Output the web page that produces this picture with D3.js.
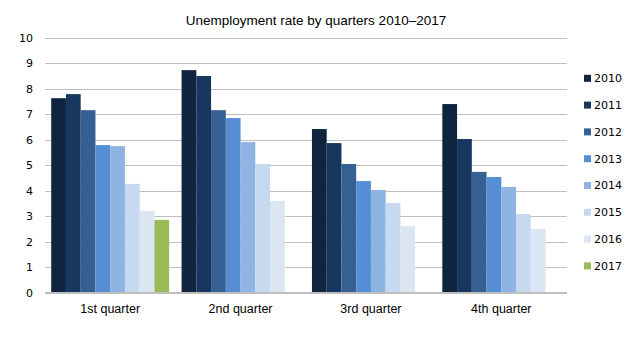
<!DOCTYPE html>
<html>
<head>
<meta charset="utf-8">
<script src="https://cdn.jsdelivr.net/npm/d3@7"></script>
<style>
  html, body { margin: 0; padding: 0; background: #fff; }
  svg { display: block; }
</style>
</head>
<body>
<svg id="chart" width="643" height="340"></svg>
<script>
// Quarterly unemployment rate, one bar per year within each quarter
const quarters = ["1st quarter", "2nd quarter", "3rd quarter", "4th quarter"];
const years = ["2010", "2011", "2012", "2013", "2014", "2015", "2016", "2017"];
const rate2010 = [7.62, 8.72, 6.41, 7.39];
const rate2011 = [7.78, 8.49, 5.86, 6.02];
const rate2012 = [7.15, 7.15, 5.04, 4.73];
const rate2013 = [5.78, 6.84, 4.37, 4.53];
const rate2014 = [5.74, 5.90, 4.02, 4.14];
const rate2015 = [4.26, 5.04, 3.51, 3.08];
const rate2016 = [3.20, 3.59, 2.61, 2.49];
const rate2017 = [2.85, null, null, null];
const yTicks = [0, 1, 2, 3, 4, 5, 6, 7, 8, 9, 10];
const yearColors = ["#10243f", "#17375e", "#366092", "#558ed5", "#8eb4e3", "#c6d9f1", "#dce6f2", "#9bbb59"];

const seriesByYear = [rate2010, rate2011, rate2012, rate2013, rate2014, rate2015, rate2016, rate2017];

const svg = d3.select("#chart");
const plot = { left: 45, right: 566.5, top: 37.5, bottom: 292.5 };

const x0 = d3.scaleBand().domain(quarters).range([plot.left, plot.right]).padding(0);
const groupPad = 6.2;
const x1 = d3.scaleBand().domain(years).range([groupPad, x0.bandwidth() - groupPad]).padding(0);
const y = d3.scaleLinear().domain([0, 10]).range([plot.bottom, plot.top]);
const color = d3.scaleOrdinal().domain(years).range(yearColors);

// Horizontal gridlines with value labels
const yAxis = d3.axisLeft(y).tickValues(yTicks).tickSize(-(plot.right - plot.left)).tickPadding(12);
const gy = svg.append("g").attr("transform", `translate(${plot.left},0)`).call(yAxis);
gy.select(".domain").remove();
gy.selectAll(".tick line").attr("stroke", "#bfbfbf").attr("stroke-width", 1).attr("shape-rendering", "crispEdges");
gy.selectAll(".tick text")
  .attr("fill", "#000")
  .attr("font-family", "DejaVu Sans, Verdana, sans-serif")
  .attr("font-size", "11px");

// Bars
const barData = [];
quarters.forEach((q, qi) => {
  years.forEach((yr, yi) => {
    const v = seriesByYear[yi][qi];
    if (v != null) barData.push({ quarter: q, year: yr, value: v });
  });
});

svg.append("g")
  .selectAll("rect")
  .data(barData)
  .join("rect")
  .attr("x", d => x0(d.quarter) + x1(d.year))
  .attr("width", x1.bandwidth())
  .attr("y", d => y(d.value))
  .attr("height", d => y(0) - y(d.value))
  .attr("fill", d => color(d.year));

// Category axis labels
const xAxis = d3.axisBottom(x0).tickSize(0).tickPadding(12);
const gx = svg.append("g").attr("transform", `translate(0,${plot.bottom})`).call(xAxis);
gx.select(".domain").remove();
gx.selectAll(".tick text")
  .attr("fill", "#000")
  .attr("font-family", "Liberation Sans, Arial, sans-serif")
  .attr("font-size", "12.5px");

// Baseline
svg.append("line")
  .attr("x1", plot.left).attr("x2", plot.right)
  .attr("y1", y(0)).attr("y2", y(0))
  .attr("stroke", "#bfbfbf").attr("shape-rendering", "crispEdges");

// Title
svg.append("text")
  .attr("x", 316).attr("y", 24.5)
  .attr("text-anchor", "middle")
  .attr("font-family", "Liberation Sans, Arial, sans-serif")
  .attr("font-size", "13.5px")
  .attr("fill", "#000")
  .text("Unemployment rate by quarters 2010\u20132017");

// Legend
const legendStep = 26.8;
const legend = svg.append("g").attr("transform", "translate(584,78.3)");
const items = legend.selectAll("g").data(years).join("g")
  .attr("transform", (d, i) => `translate(0,${i * legendStep})`);
items.append("rect")
  .attr("x", 0).attr("y", -3.5).attr("width", 7).attr("height", 7)
  .attr("fill", d => color(d));
items.append("text")
  .attr("x", 10).attr("y", 0).attr("dy", "0.35em")
  .attr("font-family", "DejaVu Sans, Verdana, sans-serif")
  .attr("font-size", "11px")
  .attr("fill", "#000")
  .text(d => d);
</script>
</body>
</html>
